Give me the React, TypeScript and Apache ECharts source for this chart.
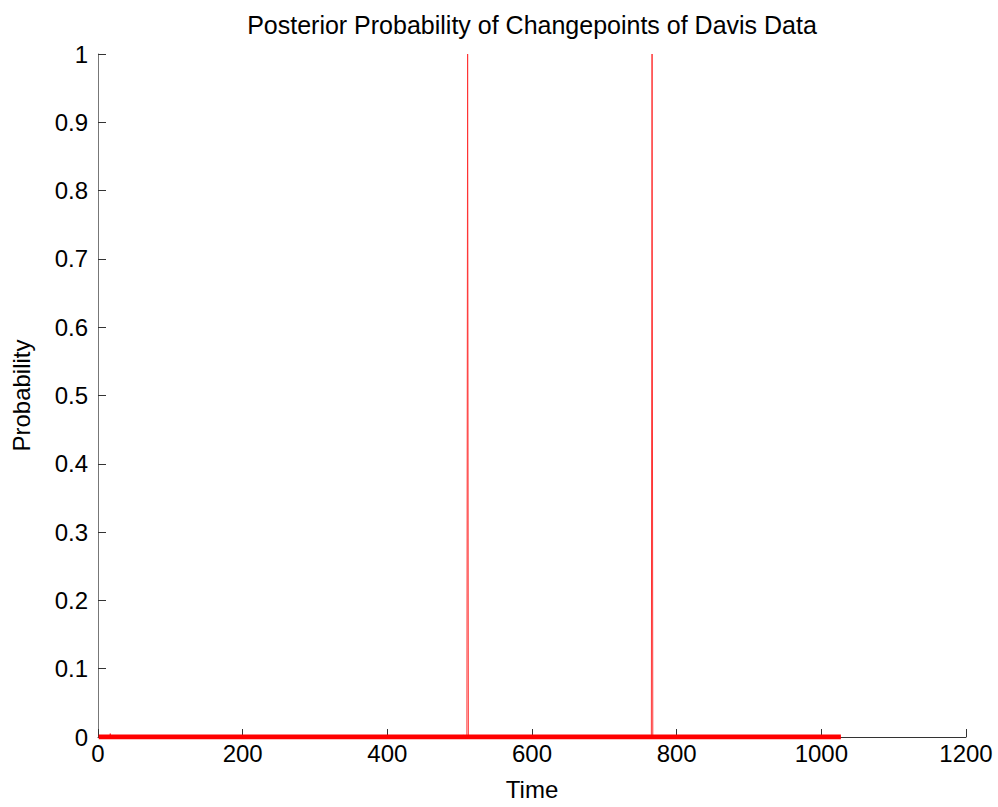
import React, { useEffect, useRef } from "react";
import * as echarts from "echarts";

const title = "Posterior Probability of Changepoints of Davis Data";
const xName = "Time";
const yName = "Probability";
const startTime = 1;
const endTime = 1027;
const spikeTimes = [17, 505, 511, 766];
const spikeValues = [0.005, 0.003, 1, 1];
const xTicks = [0, 200, 400, 600, 800, 1000, 1200];
const yTicks = [0, 0.1, 0.2, 0.3, 0.4, 0.5, 0.6, 0.7, 0.8, 0.9, 1];

function buildSeries(): [number, number][] {
  const pts: [number, number][] = [[startTime, 0]];
  spikeTimes.forEach((t, i) => {
    pts.push([t - 1, 0]);
    pts.push([t, spikeValues[i]]);
    pts.push([t + 1, 0]);
  });
  pts.push([endTime, 0]);
  return pts;
}

export default function App() {
  const ref = useRef<HTMLDivElement>(null);
  useEffect(() => {
    if (!ref.current) return;
    const chart = echarts.init(ref.current, null, { renderer: "svg" });
    const font = "'Liberation Sans', Arial, Helvetica, sans-serif";
    const axisColor = "#333";
    chart.setOption({
      animation: false,
      backgroundColor: "#ffffff",
      textStyle: { fontFamily: font },
      title: {
        text: title,
        left: 527,
        top: 7,
        textAlign: "center",
        textStyle: { fontFamily: font, fontSize: 25, fontWeight: "normal", color: "#000" },
      },
      grid: { left: 98, right: 32, top: 54, bottom: 70, containLabel: false },
      xAxis: {
        type: "value",
        min: xTicks[0],
        max: xTicks[xTicks.length - 1],
        interval: xTicks[1] - xTicks[0],
        name: xName,
        nameLocation: "middle",
        nameGap: 40,
        nameTextStyle: { fontFamily: font, fontSize: 24, color: "#000" },
        axisLine: { show: true, onZero: false, lineStyle: { color: axisColor, width: 1 } },
        axisTick: { show: true, inside: true, length: 8, lineStyle: { color: axisColor } },
        axisLabel: {
          fontFamily: font,
          fontSize: 24,
          color: "#000",
          margin: 4,
          formatter: (v: number) => String(v),
        },
        splitLine: { show: false },
      },
      yAxis: {
        type: "value",
        min: yTicks[0],
        max: yTicks[yTicks.length - 1],
        interval: 0.1,
        name: yName,
        nameLocation: "middle",
        nameGap: 65,
        nameTextStyle: { fontFamily: font, fontSize: 24, color: "#000" },
        axisLine: { show: true, lineStyle: { color: "#777", width: 1 } },
        axisTick: { show: true, inside: true, length: 8, lineStyle: { color: axisColor } },
        axisLabel: {
          fontFamily: font,
          fontSize: 24,
          color: "#000",
          margin: 10,
          formatter: (v: number) => String(Math.round(v * 10) / 10),
        },
        splitLine: { show: false },
      },
      series: [
        {
          type: "line",
          data: [[startTime, 0], [endTime, 0]],
          symbol: "none",
          lineStyle: { color: "#ff0000", width: 5 },
          silent: true,
          z: 3,
        },
        {
          type: "line",
          data: buildSeries(),
          symbol: "none",
          lineStyle: { color: "#ff3333", width: 1 },
          silent: true,
          z: 2,
        },
      ],
    });
    return () => chart.dispose();
  }, []);
  return (
    <div
      ref={ref}
      style={{ position: "fixed", left: 0, top: 0, width: 998, height: 807 }}
    />
  );
}
